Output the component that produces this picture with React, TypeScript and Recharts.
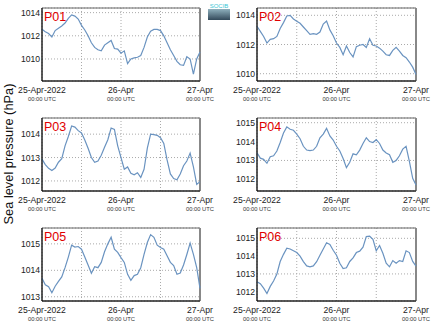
import {
  LineChart,
  Line,
  XAxis,
  YAxis,
  CartesianGrid,
  ReferenceArea,
  ReferenceLine,
} from "recharts";

// hours since 25-Apr-2022 00:00 UTC
const hours = Array.from({ length: 49 }, (_, i) => i);

const p01 = [
  1012.56, 1012.35, 1012.2, 1011.9, 1012.45, 1012.65, 1012.85, 1013.1, 1013.5, 1013.8,
  1013.7, 1013.45, 1012.9, 1012.5, 1012.0, 1011.4, 1011.0, 1010.8, 1010.7, 1011.2,
  1011.4, 1011.6, 1010.9, 1010.85, 1010.5, 1010.7, 1009.6, 1010.0, 1010.1, 1010.15,
  1010.3, 1011.0, 1011.9, 1012.4, 1012.55, 1012.55, 1012.45, 1012.0, 1011.4, 1010.8,
  1010.3, 1009.8, 1009.5, 1009.45, 1010.2, 1010.0, 1008.7, 1010.0, 1010.6,
];
const p02 = [
  1013.25, 1012.9, 1012.55, 1012.1, 1012.35, 1012.4, 1012.55, 1013.1, 1013.5, 1013.95,
  1014.0, 1013.75, 1013.6, 1013.45, 1013.2, 1012.95, 1012.7, 1012.75, 1012.7, 1012.85,
  1013.4, 1013.6, 1013.0, 1012.6, 1012.1, 1011.8, 1011.3, 1011.9, 1011.45, 1011.15,
  1011.85, 1011.95, 1012.0, 1011.8, 1012.4, 1011.95, 1011.9, 1011.75, 1011.55, 1011.3,
  1011.25, 1011.6, 1011.8, 1011.55, 1011.25, 1011.1, 1010.8, 1010.45, 1009.95,
];
const p03 = [
  1012.93, 1012.7, 1012.54, 1012.45, 1012.55, 1012.8, 1012.95, 1013.5, 1013.9, 1014.35,
  1014.3, 1014.15, 1014.05, 1013.75, 1013.4, 1013.0, 1012.8, 1012.85, 1013.1, 1013.44,
  1013.76, 1014.26, 1014.2, 1013.5, 1013.0, 1012.5, 1012.6, 1012.33, 1012.26, 1012.35,
  1012.15, 1012.5, 1013.4, 1014.0, 1013.98, 1013.95, 1013.85, 1013.6, 1012.9, 1012.3,
  1012.1, 1012.05, 1012.3, 1012.65, 1012.85, 1013.19, 1012.6, 1011.85, 1011.97,
];
const p04 = [
  1013.41, 1013.12, 1013.06, 1012.85, 1013.2, 1013.25, 1013.5, 1013.95, 1014.45, 1014.78,
  1014.65, 1014.6, 1014.4, 1014.15, 1013.75, 1013.55, 1013.52, 1013.55, 1013.75, 1014.2,
  1014.4, 1014.7, 1014.3, 1014.08, 1013.75, 1013.5, 1013.1, 1012.62, 1012.9, 1013.35,
  1013.3, 1013.55, 1013.9, 1014.2, 1014.0, 1013.95, 1014.1, 1013.9, 1013.55, 1013.4,
  1013.3, 1012.9, 1013.0, 1013.25, 1013.6, 1013.75, 1012.95, 1012.05, 1011.7,
];
const p05 = [
  1013.7, 1013.45, 1013.38, 1013.15, 1013.4, 1013.58, 1013.75, 1014.1, 1014.5, 1014.95,
  1014.88, 1014.9, 1014.8, 1014.5, 1014.2, 1013.89, 1014.14, 1014.1, 1014.3, 1014.7,
  1015.0, 1015.25, 1014.8, 1014.68, 1014.48, 1014.3, 1013.85, 1013.62, 1013.8, 1013.85,
  1014.1, 1014.6, 1015.05, 1015.35, 1015.25, 1014.95, 1014.86, 1014.8, 1014.55, 1014.3,
  1014.18, 1013.85, 1013.9, 1014.2, 1014.6, 1015.03, 1014.6, 1014.1, 1013.32,
];
const p06 = [
  1012.56, 1012.45, 1012.2, 1011.9, 1012.3, 1012.6, 1013.0, 1013.7, 1014.1, 1014.45,
  1014.4, 1014.3, 1014.2, 1014.0, 1013.69, 1013.45, 1013.4, 1013.45, 1013.69, 1014.05,
  1014.4, 1014.75, 1014.65, 1014.33, 1014.05, 1013.6, 1013.3, 1013.35, 1013.7, 1013.9,
  1014.2, 1014.28, 1014.5, 1015.1, 1015.12, 1014.95, 1014.3, 1014.6, 1014.16, 1013.6,
  1013.4, 1013.75, 1013.6, 1013.75, 1013.7, 1014.3, 1014.2, 1013.7, 1013.44,
];

const stations = ["P01", "P02", "P03", "P04", "P05", "P06"];
const series = [p01, p02, p03, p04, p05, p06];
const yTicks = [
  [1010, 1012, 1014],
  [1010, 1011, 1012, 1013, 1014],
  [1012, 1013, 1014],
  [1012, 1013, 1014, 1015],
  [1013, 1014, 1015],
  [1012, 1013, 1014, 1015],
];
const yDomains = [
  [1008.1, 1014.4],
  [1009.5, 1014.5],
  [1011.57, 1014.69],
  [1011.38, 1015.25],
  [1012.84, 1015.6],
  [1011.48, 1015.58],
];
const xTicks = [0, 12, 24, 36, 48];
const xTickLabels: Record<number, string> = { 0: "25-Apr-2022", 24: "26-Apr", 48: "27-Apr" };
const xSubLabel = "00:00 UTC";

const font = "'Liberation Sans', Arial, sans-serif";

function DateTick({ x, y, payload }: any) {
  const label = xTickLabels[payload.value];
  if (!label) return null;
  return (
    <g>
      <text x={x} y={y + 12} textAnchor="middle" fontSize={8.6} fill="#222" fontFamily={font}>
        {label}
      </text>
      <text x={x} y={y + 19.5} textAnchor="middle" fontSize={5.8} fill="#333" fontFamily={font}>
        {xSubLabel}
      </text>
    </g>
  );
}

function Panel({ idx }: { idx: number }) {
  const col = idx % 2;
  const row = Math.floor(idx / 2);
  const data = hours.map((h, i) => ({ h, p: series[idx][i] }));
  const dom = yDomains[idx];
  return (
    <div style={{ position: "absolute", left: col * 215, top: row * 110 }}>
      <LineChart
        width={col === 0 ? 215 : 220}
        height={110}
        data={data}
        margin={{ top: 8, right: col === 0 ? 15 : 19, bottom: 0, left: 0 }}
      >
        <CartesianGrid strokeDasharray="1 2" stroke="#aaa" />
        <XAxis
          dataKey="h"
          type="number"
          domain={[0, 48]}
          ticks={xTicks}
          tick={<DateTick />}
          tickLine={false}
          tickSize={0}
          tickMargin={0}
          height={29}
          axisLine={{ stroke: "#000" }}
          interval={0}
        />
        <YAxis
          domain={dom}
          ticks={yTicks[idx]}
          width={42}
          tickLine={false}
          tickSize={0}
          tickMargin={2}
          axisLine={{ stroke: "#000" }}
          tick={{ fontSize: 8.6, fill: "#222", fontFamily: font }}
          allowDataOverflow
        />
        <ReferenceArea
          x1={0}
          x2={48}
          y1={dom[0]}
          y2={dom[1]}
          fill="none"
          stroke="#666"
          ifOverflow="visible"
        />
        <ReferenceLine x={48} stroke="#888" strokeWidth={2} />
        <Line
          type="linear"
          dataKey="p"
          stroke="#6a93c0"
          strokeWidth={1.2}
          dot={false}
          isAnimationActive={false}
        />
      </LineChart>
    </div>
  );
}

export default function App() {
  return (
    <div
      style={{
        position: "absolute",
        left: 0,
        top: 0,
        width: 435,
        height: 327,
        background: "#fff",
        fontFamily: font,
      }}
    >
      {stations.map((_, i) => (
        <Panel key={i} idx={i} />
      ))}
      <svg
        width={435}
        height={327}
        style={{ position: "absolute", left: 0, top: 0, pointerEvents: "none" }}
      >
        <defs>
          <linearGradient id="logoG" x1="0" y1="0" x2="0" y2="1">
            <stop offset="0" stopColor="#8fb0bd" />
            <stop offset="1" stopColor="#33495a" />
          </linearGradient>
        </defs>
        {stations.map((s, i) => (
          <text
            key={s}
            x={(i % 2) * 215 + 44}
            y={Math.floor(i / 2) * 110 + 20.5}
            fontSize={12.5}
            fill="#e00000"
            fontFamily={font}
          >
            {s}
          </text>
        ))}
        <text
          x={13}
          y={154}
          transform="rotate(-90 13 154)"
          textAnchor="middle"
          fontSize={12.8}
          fill="#111"
          fontFamily={font}
        >
          Sea level pressure (hPa)
        </text>
        <rect x={208} y={9} width={22} height={11} fill="url(#logoG)" />
        <text x={219} y={8} textAnchor="middle" fontSize={6} fill="#3cc6d6" fontFamily={font}>
          SOCIB
        </text>
      </svg>
    </div>
  );
}
